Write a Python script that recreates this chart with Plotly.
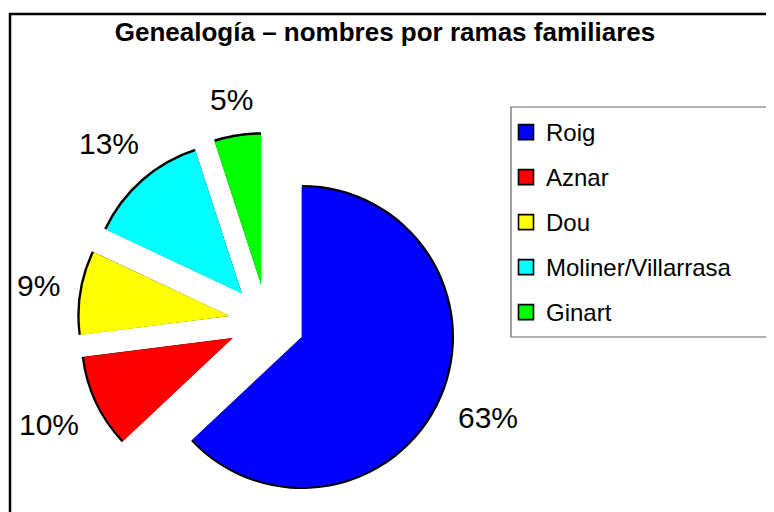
import math
import plotly.graph_objects as go

categories = ["Roig", "Aznar", "Dou", "Moliner/Villarrasa", "Ginart"]
values = [63, 10, 9, 13, 5]
colors = ["#0000FF", "#FF0000", "#FFFF00", "#00FFFF", "#00FF00"]
title_text = "Genealogía – nombres por ramas familiares"

# page has an 8px body margin, so the figure is sized to fit the window
W, H = 766, 504
FONT = "Liberation Sans, Arial, sans-serif"
LABEL_SIZE = 30


def px(x):
    return x / W


def py(y):
    return 1 - y / H


# pie geometry (pixels, figure coordinates)
cx, cy = 259, 314
shift = 37.8          # how far each slice is pulled out
r_col, r_blk = 150.0, 152.2
label_base = 208      # distance from pie centre to the near edge of a label


def dom(r, p):
    half = r * (1 + p)
    return dict(x=[px(cx - half), px(cx + half)],
                y=[max(0.0, py(cy + half)), min(1.0, py(cy - half))])


def text_width(s, size):
    # approximate Arial/Liberation Sans advance widths
    return sum(0.889 if ch == "%" else 0.556 for ch in s) * size


p_col = shift / r_col
p_blk = (shift + 0.3) / r_blk

fig = go.Figure()

# black outline pie (slightly larger, behind) -> black rim on the arcs
fig.add_trace(go.Pie(
    labels=categories, values=values, sort=False, direction="clockwise",
    rotation=0, pull=[p_blk] * len(values), domain=dom(r_blk, p_blk),
    marker=dict(colors=["#000000"] * len(values), line=dict(width=0)),
    textinfo="none", hoverinfo="skip", showlegend=False, automargin=False,
))

# coloured pie
fig.add_trace(go.Pie(
    labels=categories, values=values, sort=False, direction="clockwise",
    rotation=0, pull=[p_col] * len(values), domain=dom(r_col, p_col),
    marker=dict(colors=colors, line=dict(width=0)),
    textinfo="none", showlegend=False, automargin=False,
))

# percent labels placed just outside each slice, along its bisector
total = sum(values)
annotations = []
cum = 0.0
for v in values:
    mid = (cum + v / 2) / total * 2 * math.pi   # clockwise from 12 o'clock
    cum += v
    txt = f"{v / total * 100:.0f}%"
    sx, sy = math.sin(mid), -math.cos(mid)
    half_w = text_width(txt, LABEL_SIZE) / 2
    half_h = 14
    d = label_base + half_w * abs(sx) + half_h * abs(sy)
    annotations.append(dict(
        x=px(cx + d * sx), y=py(cy + d * sy), xref="paper", yref="paper",
        text=txt, showarrow=False, xanchor="center", yanchor="middle",
        font=dict(family=FONT, size=LABEL_SIZE, color="#000000"),
    ))

# legend entries
for name, col in zip(categories, colors):
    fig.add_trace(go.Scatter(
        x=[None], y=[None], mode="markers", name=name, legendgroup=name,
        marker=dict(symbol="square", size=15, color=col,
                    line=dict(color="#000000", width=1.6)),
    ))

fig.update_layout(
    width=W, height=H,
    margin=dict(l=0, r=0, t=0, b=0, pad=0, autoexpand=False),
    paper_bgcolor="white", plot_bgcolor="white",
    font=dict(family=FONT, color="#000000"),
    title=dict(text="<b>" + title_text + "</b>", x=px(377), xanchor="center",
               y=py(24), yanchor="middle",
               font=dict(family=FONT, size=26, color="#000000")),
    xaxis=dict(visible=False), yaxis=dict(visible=False),
    showlegend=True,
    legend=dict(x=px(498), y=py(102), xanchor="left", yanchor="top",
                bgcolor="rgba(0,0,0,0)", borderwidth=0,
                font=dict(family=FONT, size=24, color="#000000"),
                tracegroupgap=10.8),
    annotations=annotations,
    shapes=[
        dict(type="rect", xref="paper", yref="paper",
             x0=px(2), x1=px(W + 20), y0=py(H + 20), y1=py(6),
             line=dict(color="#000000", width=2.5), fillcolor="rgba(0,0,0,0)"),
        dict(type="rect", xref="paper", yref="paper",
             x0=px(503), x1=px(760), y0=py(329), y1=py(99),
             line=dict(color="#666666", width=1.2), fillcolor="rgba(0,0,0,0)"),
    ],
)

fig.write_html("out.html")
